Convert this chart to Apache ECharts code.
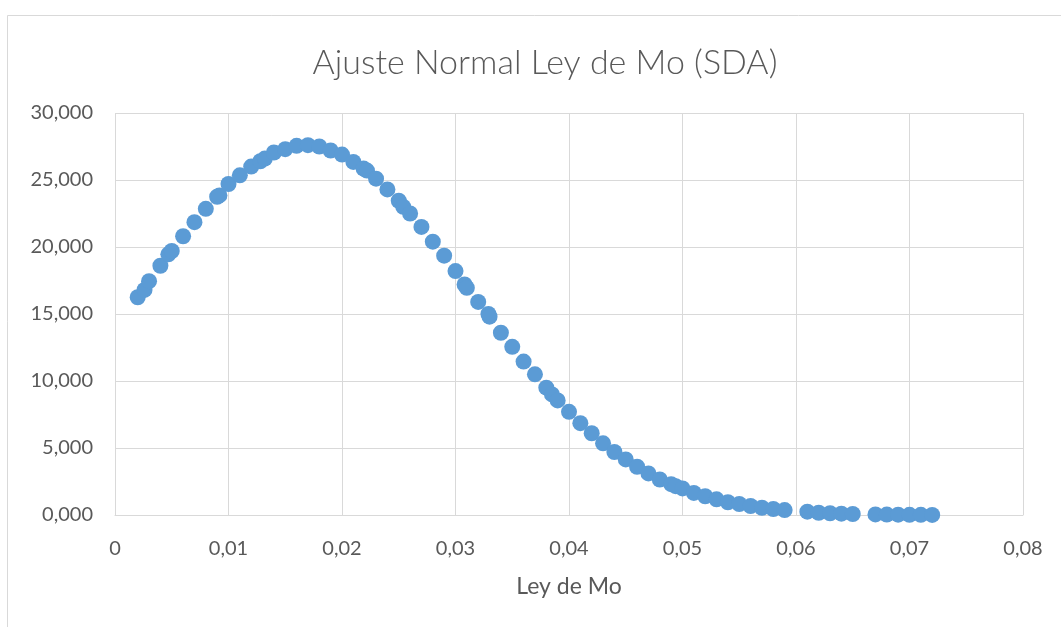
<!DOCTYPE html>
<html>
<head>
<meta charset="utf-8">
<script src="https://cdn.jsdelivr.net/npm/echarts@6/dist/echarts.min.js"></script>
<style>
  html, body { margin: 0; padding: 0; background: #fff; }
  #chart { width: 1061px; height: 627px; }
</style>
</head>
<body>
<div id="chart"></div>
<script>
// Ley de Mo (sample grades) and fitted normal density
const leyMo = [
  0.002, 0.0026, 0.003, 0.004, 0.0047, 0.005, 0.006, 0.007, 0.008, 0.009,
  0.0092, 0.010, 0.011, 0.012, 0.0128, 0.0132, 0.014, 0.015, 0.016, 0.017,
  0.018, 0.019, 0.020, 0.021, 0.0219, 0.0222, 0.023, 0.024, 0.025, 0.0254,
  0.026, 0.027, 0.028, 0.029, 0.030, 0.0308, 0.031, 0.032, 0.0329, 0.033,
  0.034, 0.035, 0.036, 0.037, 0.038, 0.0385, 0.039, 0.040, 0.041, 0.042,
  0.043, 0.044, 0.045, 0.046, 0.047, 0.048, 0.049, 0.0494, 0.050, 0.051,
  0.052, 0.053, 0.054, 0.055, 0.056, 0.057, 0.058, 0.059, 0.061, 0.062,
  0.063, 0.064, 0.065, 0.067, 0.068, 0.069, 0.070, 0.071, 0.072
];
const densidad = [
  16.25, 16.8, 17.45, 18.6, 19.45, 19.7, 20.8, 21.85, 22.85, 23.75,
  23.85, 24.7, 25.35, 26.0, 26.4, 26.6, 27.05, 27.3, 27.55, 27.6,
  27.5, 27.2, 26.9, 26.35, 25.85, 25.7, 25.1, 24.3, 23.45, 23.0,
  22.5, 21.5, 20.4, 19.35, 18.2, 17.2, 16.95, 15.9, 15.0, 14.8,
  13.6, 12.55, 11.45, 10.5, 9.5, 9.0, 8.55, 7.7, 6.85, 6.1,
  5.35, 4.7, 4.15, 3.6, 3.1, 2.65, 2.3, 2.15, 1.98, 1.65,
  1.4, 1.17, 0.95, 0.82, 0.67, 0.54, 0.45, 0.37, 0.25, 0.17,
  0.13, 0.1, 0.075, 0.04, 0.03, 0.022, 0.016, 0.011, 0.008
];

const titulo = 'Ajuste Normal Ley de Mo (SDA)';
const tituloEjeX = 'Ley de Mo';

const puntos = leyMo.map((x, i) => [x, densidad[i]]);

const gris = '#d9d9d9';
const texto = '#595959';
const fuente = 'Lato, "Open Sans", sans-serif';

const chart = echarts.init(document.getElementById('chart'), null, { renderer: 'canvas' });
chart.setOption({
  backgroundColor: '#ffffff',
  animation: false,
  graphic: [{
    type: 'rect',
    left: 5, top: 13,
    shape: { width: 1200, height: 700 },
    style: { fill: 'none', stroke: gris, lineWidth: 1 },
    silent: true
  }],
  title: {
    text: titulo,
    left: 540,
    textAlign: 'center',
    top: 41,
    textStyle: { fontFamily: fuente, fontWeight: 300, fontSize: 34, color: texto }
  },
  grid: { left: 115, right: 38, top: 113, bottom: 112, containLabel: false },
  xAxis: {
    type: 'value',
    min: 0, max: 0.08, interval: 0.01,
    name: tituloEjeX,
    nameLocation: 'middle',
    nameGap: 60,
    nameTextStyle: { fontFamily: fuente, fontSize: 23, color: texto },
    axisLine: { show: true, lineStyle: { color: gris, width: 1 } },
    axisTick: { show: false },
    splitLine: { show: true, lineStyle: { color: gris, width: 1 } },
    axisLabel: {
      margin: 24,
      fontFamily: fuente, fontSize: 20, color: texto,
      formatter: v => (v === 0 ? '0' : String(+v.toFixed(2)).replace('.', ','))
    }
  },
  yAxis: {
    type: 'value',
    min: 0, max: 30, interval: 5,
    axisLine: { show: false },
    axisTick: { show: false },
    splitLine: { show: true, lineStyle: { color: gris, width: 1 } },
    axisLabel: {
      margin: 22,
      fontFamily: fuente, fontSize: 20, color: texto,
      formatter: v => v.toFixed(3).replace('.', ',')
    }
  },
  series: [{
    type: 'scatter',
    data: puntos,
    symbol: 'circle',
    symbolSize: 16,
    itemStyle: { color: '#5b9bd5', opacity: 1 }
  }]
});
</script>
</body>
</html>
